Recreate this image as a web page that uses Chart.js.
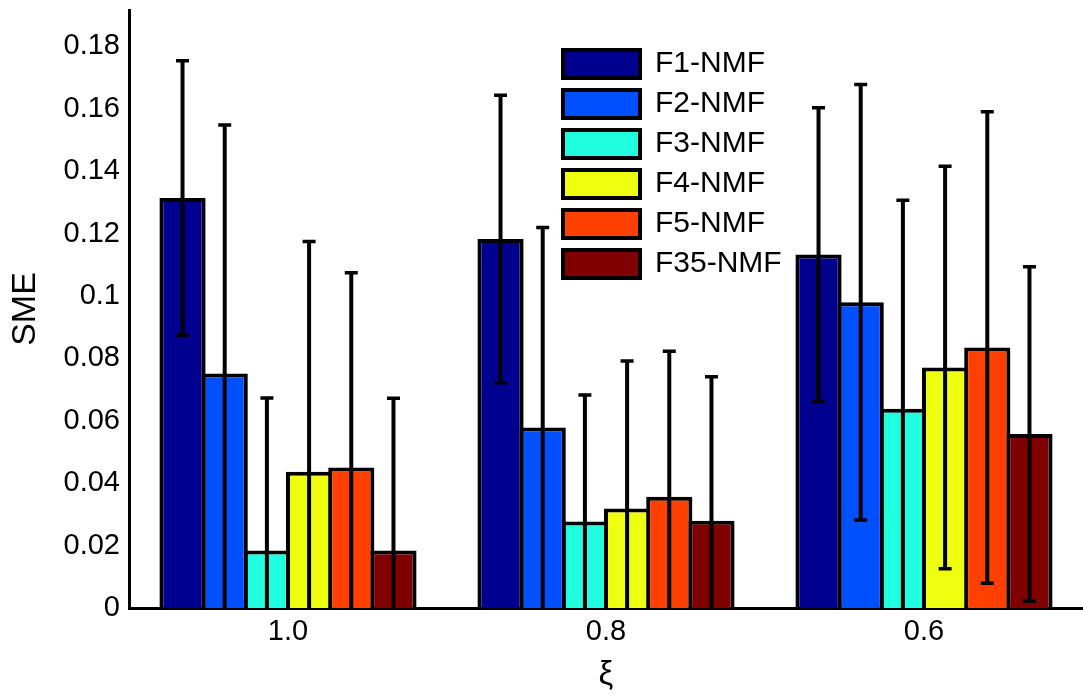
<!DOCTYPE html>
<html>
<head>
<meta charset="utf-8">
<script src="https://cdn.jsdelivr.net/npm/chart.js@4/dist/chart.umd.min.js"></script>
<style>
  html, body { margin: 0; padding: 0; background: #fff; }
  #c { display: block; }
</style>
</head>
<body>
<canvas id="c" width="1083" height="695"></canvas>
<script>
// ---- data ----
const categories = ['1.0', '0.8', '0.6'];
const seriesNames = ['F1-NMF', 'F2-NMF', 'F3-NMF', 'F4-NMF', 'F5-NMF', 'F35-NMF'];
const f1 = [0.1314, 0.1183, 0.1133];
const f2 = [0.0752, 0.0579, 0.0980];
const f3 = [0.0184, 0.0277, 0.0639];
const f4 = [0.0437, 0.0319, 0.0771];
const f5 = [0.0450, 0.0357, 0.0835];
const f35 = [0.0184, 0.0280, 0.0558];
const f1Err = [0.0440, 0.0461, 0.0471];
const f2Err = [0.0796, 0.0641, 0.0698];
const f3Err = [0.0489, 0.0406, 0.0668];
const f4Err = [0.0738, 0.0473, 0.0645];
const f5Err = [0.0625, 0.0466, 0.0756];
const f35Err = [0.0488, 0.0461, 0.0536];
const yTicks = [0, 0.02, 0.04, 0.06, 0.08, 0.1, 0.12, 0.14, 0.16, 0.18];
const yMax = 0.1917;

const colors = ['#00008F', '#0050FF', '#20FFDF', '#EFFF10', '#FF4000', '#800000'];
const values = [f1, f2, f3, f4, f5, f35];
const errors = [f1Err, f2Err, f3Err, f4Err, f5Err, f35Err];

const FONT = "'Liberation Sans', Arial, Helvetica, sans-serif";
Chart.defaults.color = '#000';
Chart.defaults.font.family = FONT;

const errorBarPlugin = {
  id: 'errorBars',
  afterDatasetsDraw(chart) {
    const ctx = chart.ctx;
    const ys = chart.scales.y;
    const area = chart.chartArea;
    ctx.save();
    ctx.beginPath();
    ctx.rect(area.left, area.top, area.right - area.left, area.bottom - area.top);
    ctx.clip();
    ctx.strokeStyle = '#000';
    ctx.lineCap = 'butt';
    chart.data.datasets.forEach((ds, di) => {
      const meta = chart.getDatasetMeta(di);
      meta.data.forEach((bar, i) => {
        const v = ds.data[i];
        const e = ds.errors[i];
        const x = bar.x;
        const yt = ys.getPixelForValue(v + e);
        const yb = ys.getPixelForValue(v - e);
        const cap = 6.5;
        ctx.lineWidth = 4;
        ctx.beginPath();
        ctx.moveTo(x, yt);
        ctx.lineTo(x, yb);
        ctx.stroke();
        ctx.lineWidth = 3.5;
        ctx.beginPath();
        ctx.moveTo(x - cap, yt);
        ctx.lineTo(x + cap, yt);
        ctx.moveTo(x - cap, yb);
        ctx.lineTo(x + cap, yb);
        ctx.stroke();
      });
    });
    ctx.restore();
  }
};

const legendMover = {
  id: 'legendMover',
  afterLayout(chart) {
    const lg = chart.legend;
    if (!lg) return;
    const w = lg.width, h = lg.height;
    lg.left = 553;
    lg.top = 39;
    lg.right = lg.left + w;
    lg.bottom = lg.top + h;
  }
};

new Chart(document.getElementById('c'), {
  type: 'bar',
  data: {
    labels: categories,
    datasets: seriesNames.map((name, k) => ({
      label: name,
      data: values[k],
      errors: errors[k],
      backgroundColor: colors[k],
      borderColor: '#000',
      borderWidth: 4,
      borderSkipped: 'start',
      categoryPercentage: 0.796,
      barPercentage: 1.095
    }))
  },
  options: {
    responsive: false,
    animation: false,
    events: [],
    layout: { padding: { top: 10, right: 0, bottom: 0, left: 0 } },
    plugins: {
      tooltip: { enabled: false },
      legend: {
        position: 'chartArea',
        align: 'start',
        labels: {
          boxWidth: 77,
          boxHeight: 28,
          padding: 10,
          color: '#000',
          font: { size: 30, family: FONT }
        }
      }
    },
    scales: {
      x: {
        grid: { display: false, drawTicks: false },
        border: { display: true, color: '#000', width: 3 },
        ticks: { padding: 7, font: { size: 29, family: FONT }, color: '#000' },
        title: { display: true, text: 'ξ', font: { size: 33, family: FONT }, color: '#000', padding: { top: 0, bottom: 0 } },
        afterFit(s) { s.height = 87; s.paddingLeft = 0; s.paddingRight = 0; }
      },
      y: {
        min: 0,
        max: yMax,
        grid: { display: false, drawTicks: false },
        border: { display: true, color: '#000', width: 3 },
        afterBuildTicks(s) { s.ticks = yTicks.map(v => ({ value: v })); },
        ticks: {
          padding: 9,
          autoSkip: false,
          font: { size: 29, family: FONT },
          color: '#000',
          callback: (v) => String(+Number(v).toFixed(2))
        },
        title: { display: true, text: 'SME', font: { size: 34, family: FONT }, color: '#000', padding: { top: 5, bottom: 0 } },
        afterFit(s) { s.width = 129; s.paddingTop = 0; s.paddingBottom = 0; }
      }
    }
  },
  plugins: [errorBarPlugin, legendMover]
});
</script>
</body>
</html>
